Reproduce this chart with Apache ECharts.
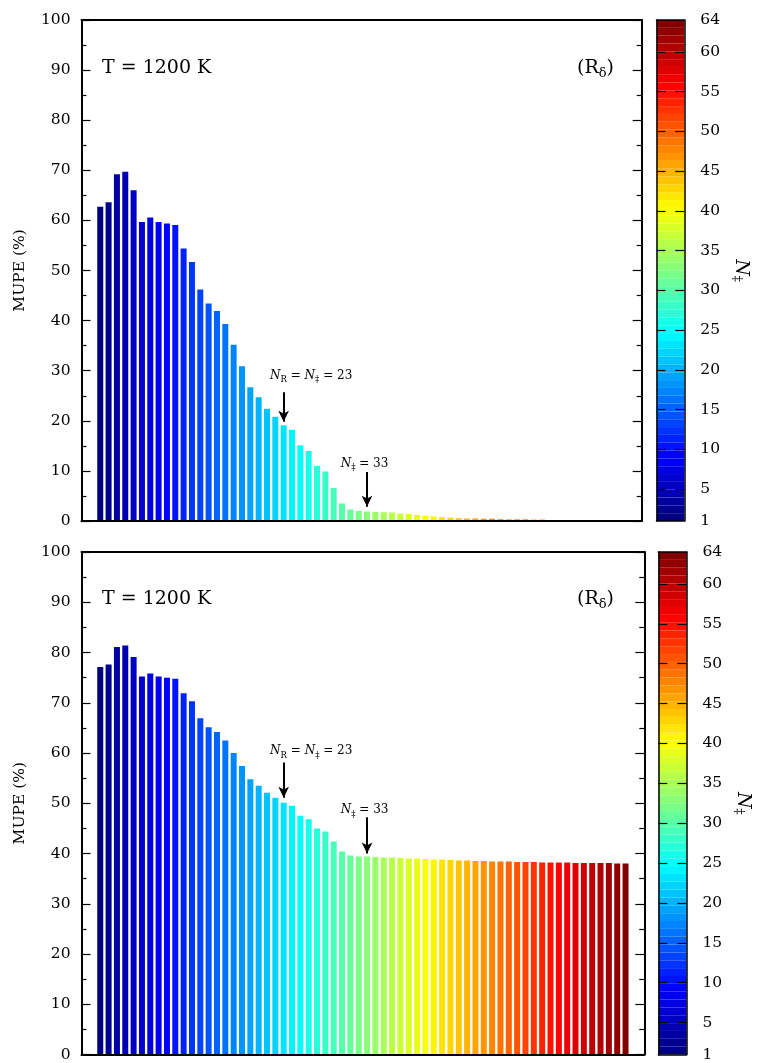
<!DOCTYPE html>
<html><head><meta charset="utf-8">
<script src="https://cdn.jsdelivr.net/npm/echarts@6/dist/echarts.min.js"></script>
<style>html,body{margin:0;padding:0;background:#fff}#c{width:759px;height:1063px}</style>
</head><body><div id="c"></div>
<script>
// ---------- data ----------
const nValues = [];
for (let n = 1; n <= 64; n++) nValues.push(n);
const mupeTop = [62.7,63.6,69.2,69.7,66.0,59.7,60.6,59.7,59.4,59.1,
  54.4,51.7,46.2,43.4,41.9,39.3,35.2,30.9,26.7,24.7,
  22.4,20.8,19.1,18.2,15.1,14.0,11.0,9.9,6.6,3.5,
  2.3,2.0,1.9,1.8,1.75,1.7,1.5,1.4,1.2,1.0,
  0.9,0.8,0.65,0.55,0.5,0.5,0.45,0.45,0.35,0.3,
  0.3,0.3,0.25,0.25,0.2,0.2,0.2,0.05,0.05,0.05,
  0.05,0.05,0.05,0.05];
const mupeBottom = [77.1,77.6,81.1,81.4,79.1,75.2,75.8,75.2,75.0,74.8,
  71.9,70.3,66.9,65.1,64.2,62.5,60.0,57.4,54.8,53.5,
  52.1,51.1,50.1,49.5,47.5,46.8,45.0,44.4,42.4,40.4,
  39.6,39.4,39.4,39.3,39.2,39.2,39.1,39.0,39.0,38.9,
  38.8,38.8,38.7,38.6,38.6,38.5,38.5,38.4,38.4,38.4,
  38.3,38.3,38.3,38.2,38.2,38.2,38.2,38.1,38.1,38.1,
  38.1,38.1,38.0,38.0];
const yTickMin = 0, yTickMax = 100, yTickStep = 10;
const cbarLabels = [1,5,10,15,20,25,30,35,40,45,50,55,60,64];
const cbarTicks = [5,10,15,20,25,30,35,40,45,50,55,60];
const annTop = {nr: 23, nd: 33, text1: [26.3, 28.7], arrow1: [25.7, 19.8], text2: [32.7, 11.2], arrow2: [9.8, 2.85]};
const annBottom = {nr: 23, nd: 33, text1: [26.3, 60.1], arrow1: [58.1, 51.1], text2: [32.7, 48.3], arrow2: [47.2, 40.0]};
const panelTitle = 'T = 1200 K';

// ---------- helpers ----------
const FF = 'DejaVu Serif';
function jet(n) {
  const t = (n - 1) / 63;
  const c = v => Math.round(255 * Math.max(0, Math.min(1, v)));
  return 'rgb(' + c(1.5 - Math.abs(4*t - 3)) + ',' + c(1.5 - Math.abs(4*t - 2)) + ',' + c(1.5 - Math.abs(4*t - 1)) + ')';
}
const black = '#000';
function lineAxis(grid, pos, min, max, w) {
  return {type: 'value', gridIndex: grid, position: pos, min: min, max: max, z: 10,
    axisLine: {show: true, onZero: false, lineStyle: {color: black, width: w || 2}},
    axisTick: {show: false}, axisLabel: {show: false}, splitLine: {show: false}};
}
function mainY(grid, pos, withLabels) {
  const a = {type: 'value', gridIndex: grid, position: pos, min: yTickMin, max: yTickMax, interval: yTickStep, z: 10,
    axisLine: {show: true, onZero: false, lineStyle: {color: black, width: 2}},
    axisTick: {show: true, inside: true, length: 9, lineStyle: {color: black, width: 1.2}},
    minorTick: {show: true, splitNumber: 2, length: 5, lineStyle: {color: black, width: 1.2}},
    splitLine: {show: false},
    axisLabel: {show: withLabels, margin: 11, fontFamily: FF, fontSize: 15.5, color: black}};
  if (withLabels) {
    a.name = 'MUPE (%)'; a.nameLocation = 'middle'; a.nameRotate = 90; a.nameGap = 54;
    a.nameTextStyle = {fontFamily: FF, fontSize: 15.5, color: black};
  }
  return a;
}
function cbarY(grid, pos, withLabels) {
  const a = {type: 'value', gridIndex: grid, position: pos, min: 1, max: 64, z: 10,
    axisLine: {show: true, onZero: false, lineStyle: {color: black, width: 1.5}},
    axisTick: {show: true, inside: true, length: 9, customValues: cbarTicks, lineStyle: {color: black, width: 1.2}},
    splitLine: {show: false},
    axisLabel: {show: withLabels, customValues: cbarLabels, margin: 16, fontFamily: FF, fontSize: 15.5, color: black}};
  if (withLabels) {
    a.name = '{i|N}{s|‡}'; a.nameLocation = 'middle'; a.nameRotate = -90; a.nameGap = 46;
    a.nameTextStyle = {color: black, rich: {
      i: {fontFamily: FF, fontStyle: 'italic', fontSize: 19, color: black, verticalAlign: 'top'},
      s: {fontFamily: FF, fontSize: 12, color: black, verticalAlign: 'bottom', padding: [8, 0, 0, 0]}}};
  }
  return a;
}
const annRich = {
  i: {fontFamily: FF, fontStyle: 'italic', fontSize: 12, color: black, verticalAlign: 'top'},
  t: {fontFamily: FF, fontSize: 12, color: black, verticalAlign: 'top'},
  s: {fontFamily: FF, fontSize: 8.5, color: black, verticalAlign: 'bottom', padding: [6, 0, 0, 0]}
};
function marks(a) {
  return {
    markLine: {silent: true, symbol: ['none', 'arrow'], symbolSize: [8, 11], animation: false,
      lineStyle: {color: black, width: 2, type: 'solid'}, label: {show: false}, emphasis: {disabled: true},
      data: [[{coord: [a.nr, a.arrow1[0]]}, {coord: [a.nr, a.arrow1[1]]}],
             [{coord: [a.nd, a.arrow2[0]]}, {coord: [a.nd, a.arrow2[1]]}]]},
    markPoint: {silent: true, symbol: 'circle', symbolSize: 0, animation: false,
      label: {show: true, position: 'inside', rich: annRich},
      data: [{coord: a.text1, label: {formatter: '{i|N}{s|R}{t| = }{i|N}{s|‡}{t| = ' + a.nr + '}'}},
             {coord: a.text2, label: {formatter: '{i|N}{s|‡}{t| = ' + a.nd + '}'}}]}
  };
}
function mainSeries(xi, yi, vals, ann) {
  return Object.assign({type: 'bar', xAxisIndex: xi, yAxisIndex: yi, barWidth: 6, animation: false,
    data: nValues.map((n, i) => [n, vals[i]]),
    itemStyle: {color: p => jet(p.data[0])}}, marks(ann));
}
function cbarSeries(xi, yi) {
  return {type: 'bar', xAxisIndex: xi, yAxisIndex: yi, barWidth: '100%', barCategoryGap: '0%', animation: false,
    data: nValues.map(n => ({value: 1, itemStyle: {color: jet(n)}}))};
}
const titleRich = {
  t: {fontFamily: FF, fontSize: 19, fontWeight: 'normal', color: black, verticalAlign: 'top'},
  s: {fontFamily: FF, fontSize: 13, fontWeight: 'normal', color: black, verticalAlign: 'bottom', padding: [8, 0, 0, 0]}
};
function titles(top) {
  return [
    {text: panelTitle, left: 102, top: top, padding: 0, textStyle: {fontFamily: FF, fontSize: 19, fontWeight: 'normal', color: black}},
    {text: '{t|(R}{s|δ}{t|)}', left: 577, top: top, padding: 0, textStyle: {fontWeight: 'normal', rich: titleRich}}
  ];
}

const chart = echarts.init(document.getElementById('c'), null, {renderer: 'canvas'});
chart.setOption({
  backgroundColor: '#fff',
  animation: false,
  title: titles(59).concat(titles(590)),
  grid: [
    {left: 81.5, top: 20, width: 560.2, height: 501},
    {left: 81.5, top: 552, width: 562.8, height: 502.5},
    {left: 656.5, top: 20, width: 27.8, height: 501},
    {left: 658.3, top: 552, width: 28.2, height: 502.5}
  ],
  xAxis: [
    lineAxis(0, 'bottom', -1.25, 65.95), lineAxis(0, 'top', -1.25, 65.95),
    lineAxis(1, 'bottom', -1.25, 66.25), lineAxis(1, 'top', -1.25, 66.25),
    lineAxis(2, 'bottom', 0, 1, 1.5), lineAxis(2, 'top', 0, 1, 1.5),
    lineAxis(3, 'bottom', 0, 1, 1.5), lineAxis(3, 'top', 0, 1, 1.5)
  ],
  yAxis: [
    mainY(0, 'left', true), mainY(0, 'right', false),
    mainY(1, 'left', true), mainY(1, 'right', false),
    {type: 'category', gridIndex: 2, data: nValues, show: false},
    cbarY(2, 'left', false), cbarY(2, 'right', true),
    {type: 'category', gridIndex: 3, data: nValues, show: false},
    cbarY(3, 'left', false), cbarY(3, 'right', true)
  ],
  series: [
    mainSeries(0, 0, mupeTop, annTop),
    mainSeries(2, 2, mupeBottom, annBottom),
    cbarSeries(4, 4),
    cbarSeries(6, 7)
  ]
});
</script></body></html>
